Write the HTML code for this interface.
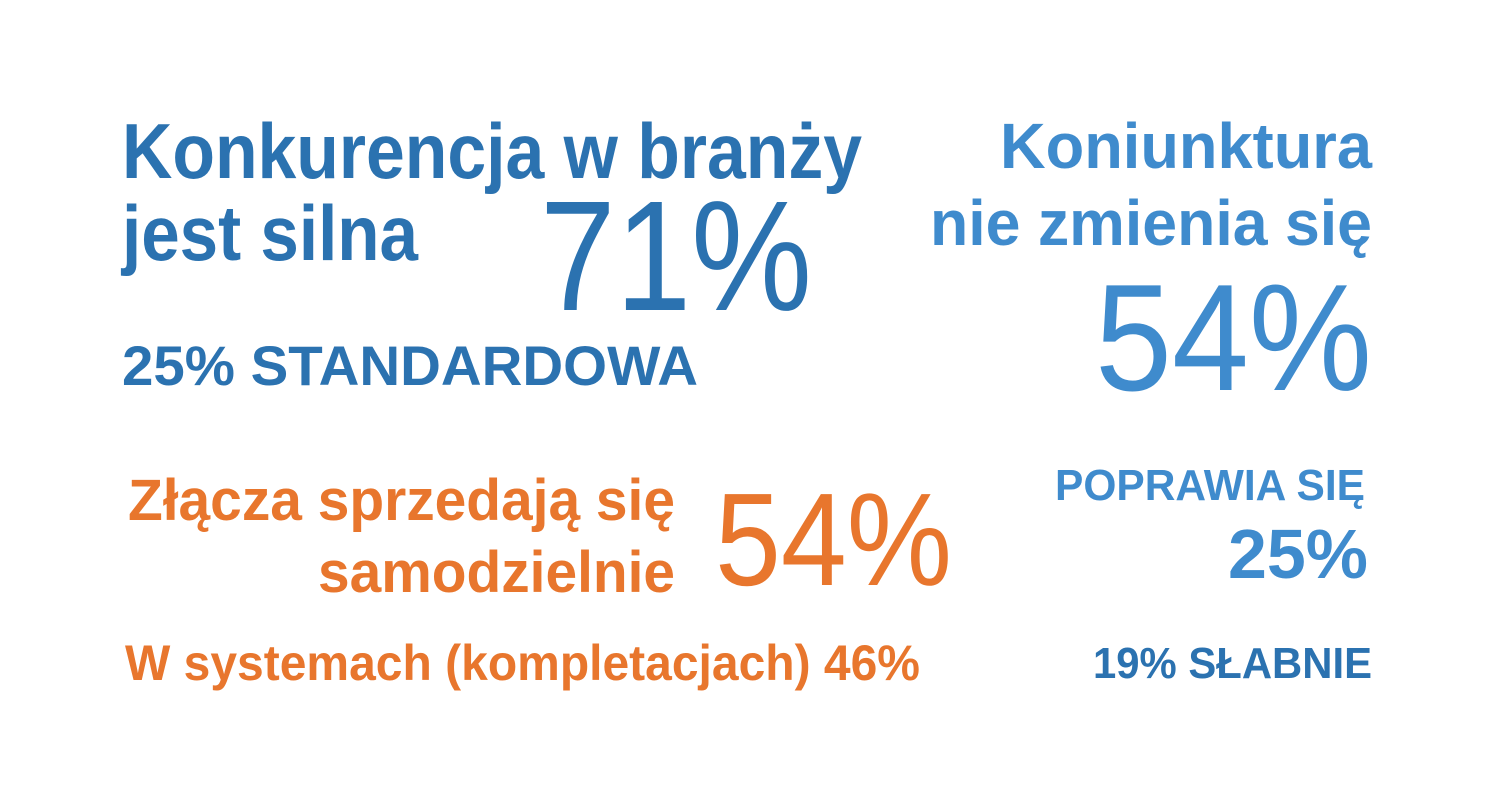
<!DOCTYPE html>
<html><head><meta charset="utf-8"><style>
html,body{margin:0;padding:0;background:#fff;width:1500px;height:800px;overflow:hidden}
svg{display:block}
text{font-family:"Liberation Sans",Arial,sans-serif}
.b{font-weight:bold}
.d{fill:#2b72b0}
.l{fill:#3f8bcd}
.o{fill:#e8762d}
</style></head><body>
<svg width="1500" height="800" viewBox="0 0 1500 800">
<text class="b d" x="122" y="178" font-size="78" textLength="740" lengthAdjust="spacingAndGlyphs">Konkurencja w branży</text>
<text class="b d" x="122" y="260" font-size="78" textLength="296" lengthAdjust="spacingAndGlyphs">jest silna</text>
<text class="d" x="540" y="310" font-size="157" textLength="272" lengthAdjust="spacingAndGlyphs">71%</text>
<text class="b d" x="122" y="385" font-size="56" textLength="576" lengthAdjust="spacingAndGlyphs">25% STANDARDOWA</text>

<text class="b l" x="1000" y="168" font-size="64" textLength="372" lengthAdjust="spacingAndGlyphs">Koniunktura</text>
<text class="b l" x="930" y="245" font-size="64" textLength="442" lengthAdjust="spacingAndGlyphs">nie zmienia się</text>
<text class="l" x="1095" y="390" font-size="152" textLength="277" lengthAdjust="spacingAndGlyphs">54%</text>

<text class="b o" x="128" y="520" font-size="58" textLength="547" lengthAdjust="spacingAndGlyphs">Złącza sprzedają się</text>
<text class="b o" x="318" y="592" font-size="58" textLength="357" lengthAdjust="spacingAndGlyphs">samodzielnie</text>
<text class="o" x="715" y="585" font-size="132" textLength="237" lengthAdjust="spacingAndGlyphs">54%</text>
<text class="b o" x="125" y="680" font-size="50" textLength="795" lengthAdjust="spacingAndGlyphs">W systemach (kompletacjach) 46%</text>

<text class="b l" x="1055" y="500" font-size="44" textLength="310" lengthAdjust="spacingAndGlyphs">POPRAWIA SIĘ</text>
<text class="b l" x="1228" y="578" font-size="70" textLength="140" lengthAdjust="spacingAndGlyphs">25%</text>
<text class="b d" x="1093" y="678" font-size="44" textLength="279" lengthAdjust="spacingAndGlyphs">19% SŁABNIE</text>
</svg>
</body></html>
